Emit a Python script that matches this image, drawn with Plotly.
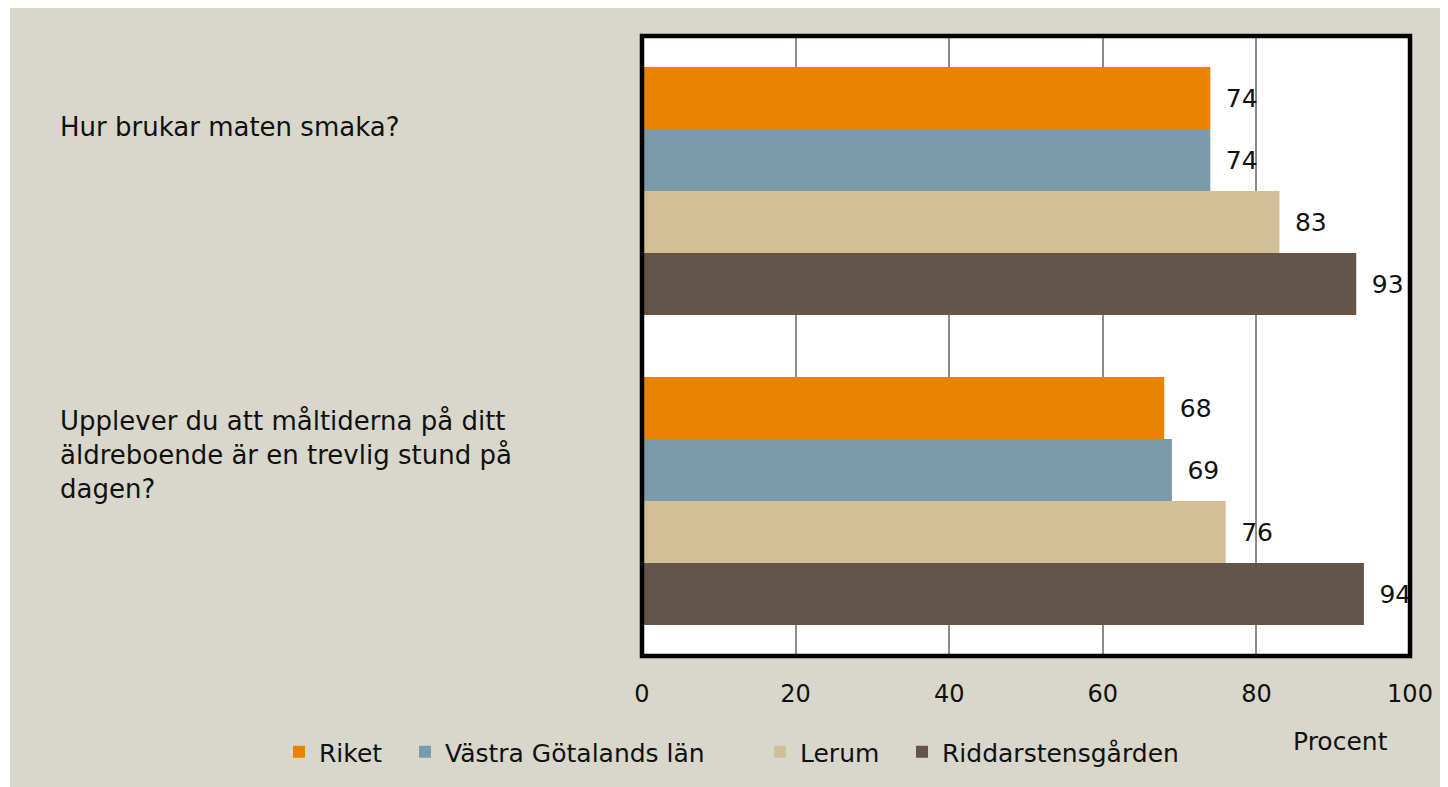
import plotly.graph_objects as go

categories = ["Hur brukar maten smaka?",
              "Upplever du att måltiderna på ditt<br>äldreboende är en trevlig stund på<br>dagen?"]
series_names = ["Riket", "Västra Götalands län", "Lerum", "Riddarstensgården"]
riket = [74, 68]
vastra_gotaland = [74, 69]
lerum = [83, 76]
riddarstensgarden = [93, 94]
x_ticks = [0, 20, 40, 60, 80, 100]
x_title = "Procent"

series_values = [riket, vastra_gotaland, lerum, riddarstensgarden]
colors = ["#E98300", "#7D9AAA", "#D3BF96", "#63554A"]
FONT = "DejaVu Sans"
TXT = "#111111"

W, H = 1448, 787
OFF = 8  # page body margin
L, T = 642 - OFF, 36 - OFF
PW, PH = 768, 620
R = W - L - PW
B = H - T - PH


def px_x(p):  # screen px -> paper
    return (p - OFF - L) / PW


def px_y(p):
    return (T + PH - (p - OFF)) / PH


legend_ids = ["legend", "legend2", "legend3", "legend4"]
legend_square_px = [292, 418, 773, 915]

fig = go.Figure()
for name, vals, col, lid in zip(series_names, series_values, colors, legend_ids):
    fig.add_trace(go.Bar(
        y=categories, x=vals, name=name, orientation="h", legend=lid,
        marker=dict(color=col, line=dict(width=0)),
        text=["\u2002" + str(v) for v in vals], textposition="outside",
        textfont=dict(family=FONT, size=25, color=TXT),
        constraintext="none", cliponaxis=False,
    ))

annotations = []
label_centers = [127, 455]
for cat, cy in zip(categories, label_centers):
    annotations.append(dict(
        text=cat, xref="paper", yref="paper", x=px_x(58), y=px_y(cy),
        xanchor="left", yanchor="middle", align="left", showarrow=False,
        font=dict(family=FONT, size=26, color=TXT),
    ))
annotations.append(dict(
    text=x_title, xref="paper", yref="paper", x=px_x(1340), y=px_y(741),
    xanchor="center", yanchor="middle", showarrow=False,
    font=dict(family=FONT, size=25, color=TXT),
))

shapes = [
    dict(type="rect", xref="paper", yref="paper", x0=px_x(0), x1=px_x(10),
         y0=px_y(H + 20), y1=px_y(0), fillcolor="white", line=dict(width=0), layer="below"),
    dict(type="rect", xref="paper", yref="paper", x0=0, x1=1, y0=0, y1=1,
         line=dict(color="black", width=4.5), layer="above"),
]

legends = {}
for lid, sq in zip(legend_ids, legend_square_px):
    legends[lid] = dict(orientation="h", x=px_x(sq - 13), y=px_y(752),
                        xanchor="left", yanchor="middle", bgcolor="rgba(0,0,0,0)",
                        font=dict(family=FONT, size=25, color=TXT), itemwidth=30)

fig.update_layout(
    width=W, height=H,
    margin=dict(l=L, r=R, t=T, b=B, autoexpand=False),
    paper_bgcolor="#D9D7CB", plot_bgcolor="white",
    barmode="group", bargap=0.2, bargroupgap=0,
    font=dict(family=FONT, size=24, color=TXT),
    showlegend=True,
    annotations=annotations, shapes=shapes,
    xaxis=dict(range=[0, 100], tickvals=x_ticks, ticktext=[str(t) for t in x_ticks],
               showgrid=True, gridcolor="#8C8C8C", gridwidth=1.5, zeroline=False,
               ticks="outside", ticklen=16, tickcolor="rgba(0,0,0,0)", showline=False,
               tickfont=dict(family=FONT, size=24, color=TXT), fixedrange=True),
    yaxis=dict(type="category", autorange="reversed", showticklabels=False,
               showgrid=False, zeroline=False, showline=False, fixedrange=True),
    **legends,
)

fig.write_html("out.html")
